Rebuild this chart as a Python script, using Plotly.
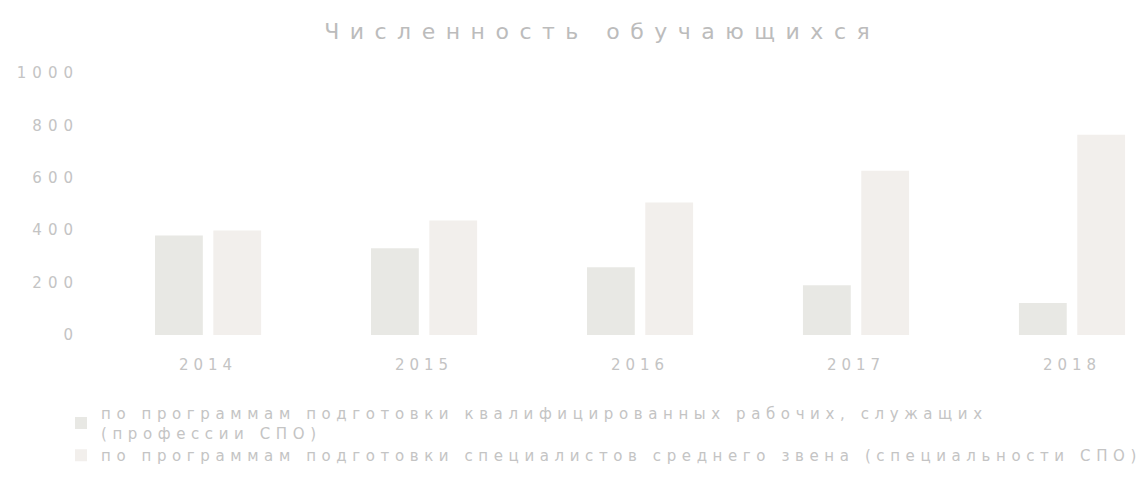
import plotly.graph_objects as go

years = ["2014", "2015", "2016", "2017", "2018"]
series1_name = "по программам подготовки квалифицированных рабочих, служащих<br>(профессии СПО)"
series2_name = "по программам подготовки специалистов среднего звена (специальности СПО)"
series1 = [380, 331, 259, 190, 122]
series2 = [399, 437, 506, 627, 764]
y_ticks = [0, 200, 400, 600, 800, 1000]
title_text = "Численность обучающихся"

TEXT = "#c4c4c4"
FONT = "DejaVu Sans"

fig = go.Figure()
fig.add_trace(go.Bar(x=years, y=series1, name=series1_name,
                     marker=dict(color="#e8e8e4", line=dict(width=0))))
fig.add_trace(go.Bar(x=years, y=series2, name=series2_name,
                     marker=dict(color="#f2efec", line=dict(width=0))))

fig.update_layout(
    width=1147, height=494,
    margin=dict(l=80, r=2, t=73, b=159, autoexpand=False),
    paper_bgcolor="white", plot_bgcolor="white",
    barmode="group", bargap=0.46, bargroupgap=0.18,
    font=dict(family=FONT, color=TEXT, size=14),
    title=dict(text=title_text, x=0.525, xanchor="center", xref="container",
               y=1 - 31 / 494, yanchor="middle", yref="container",
               font=dict(family=FONT, size=22, color="#bcbcbc")),
    xaxis=dict(type="category", range=[-0.593, 4.338], showgrid=False,
               showline=False, zeroline=False, ticks="outside", ticklen=16,
               tickcolor="rgba(0,0,0,0)", tickfont=dict(size=15, color=TEXT),
               automargin=False),
    yaxis=dict(range=[0, 1000], tickvals=y_ticks, showgrid=False,
               zeroline=False, showline=False, tickfont=dict(size=15, color=TEXT),
               automargin=False),
    legend=dict(orientation="v", xref="container", yref="container",
                x=61 / 1147, xanchor="left", y=1 - 397 / 494, yanchor="top",
                font=dict(family=FONT, size=15, color=TEXT),
                tracegroupgap=4, traceorder="normal", itemwidth=30),
    showlegend=True,
)

post = """
document.body.style.margin = '0';
var gd = document.getElementById('{plot_id}');
function sp(){
  gd.querySelectorAll('.gtitle').forEach(function(t){t.style.letterSpacing='10.5px';});
  gd.querySelectorAll('.xtick text').forEach(function(t){t.style.letterSpacing='5px';});
  gd.querySelectorAll('.ytick text').forEach(function(t){t.style.letterSpacing='6px';});
  gd.querySelectorAll('.legendtext').forEach(function(t){t.style.letterSpacing='5.6px';});
  gd.querySelectorAll('.legend [clip-path]').forEach(function(e){e.removeAttribute('clip-path');});
}
sp();
gd.on('plotly_afterplot', sp);
"""

fig.write_html("out.html", post_script=post, config={"displayModeBar": False})
